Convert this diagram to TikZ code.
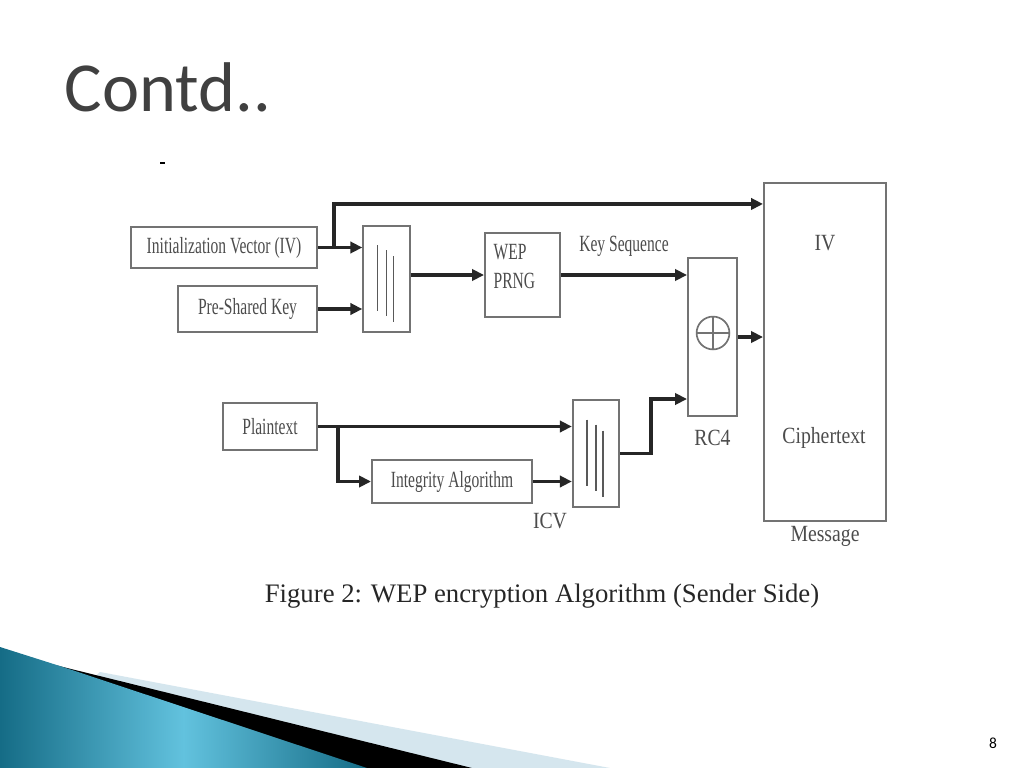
\documentclass[tikz,border=0pt]{standalone}
\usepackage{fontspec}
\setmainfont{Liberation Serif}
\newfontfamily\slidefont{Carlito}
\newfontfamily\condserif[FakeStretch=0.67]{Liberation Serif}
\newfontfamily\semiserif[FakeStretch=0.85]{Liberation Serif}
\usetikzlibrary{arrows.meta, positioning, calc, shapes.geometric}

\definecolor{swooshdark}{HTML}{156C86}
\definecolor{swooshlight}{HTML}{62C2DE}
\definecolor{paleblue}{HTML}{D5E6EE}

\begin{document}
\begin{tikzpicture}[
    x=0.025cm, y=-0.025cm,
    box/.style={rectangle, draw=black!55, line width=1.4pt, inner sep=0pt},
    catbox/.style={box, minimum width=1.16cm, minimum height=2.66cm},
    lbl/.style={font=\condserif\fontsize{16.5}{20}\selectfont, text=black!70, inner sep=1pt},
    biglbl/.style={font=\semiserif\fontsize{16.5}{20}\selectfont, text=black!70, inner sep=1pt},
    arr/.style={-{Triangle[length=8.5pt, width=8pt]}, line width=2.6pt, black!85}
]

% Slide background
\useasboundingbox (0,0) rectangle (1024,768);
\fill[white] (0,0) rectangle (1024,768);

% Corner swoosh
\fill[paleblue] (100,672) -- (610,768) -- (0,768) -- cycle;
\fill[black] (55,665) -- (472,768) -- (0,768) -- cycle;
\shade[shading=axis, shading angle=90, left color=swooshdark, right color=swooshdark, middle color=swooshlight]
    (0,647) -- (63,667) -- (367,768) -- (0,768) -- cycle;

% Title and slide texts
\node[anchor=base west, font=\slidefont\fontsize{50}{56}\selectfont, text=black!75] (title) at (60,112) {Contd..};
\draw[line width=1.5pt] (160,163) -- (165,163);
\node[font=\fontsize{19}{22}\selectfont, text=black!85] (caption) at (542,596) {Figure 2: WEP encryption Algorithm (Sender Side)};
\node[font=\slidefont\fontsize{11}{13}\selectfont] (pagenum) at (993,743) {8};

% Key inputs
\node[box, lbl, minimum width=4.65cm, minimum height=1.025cm] (ivbox) at (224,247.5) {Initialization Vector (IV)};
\node[box, lbl, minimum width=3.475cm, minimum height=1.15cm] (pskbox) at (247.5,309) {Pre-Shared Key};
\node[catbox] (cat1) at (386.5,279) {};

% PRNG and RC4
\node[box, minimum width=1.875cm, minimum height=2.1cm] (prng) at (522.5,275) {};
\node[lbl, anchor=north west, align=left] (prngtxt) at ($(prng.north west)+(8,11)$) {WEP\\PRNG};
\node[box, minimum width=1.225cm, minimum height=3.95cm] (rc4) at (712.5,337) {};
\node[circle, draw=black!55, line width=1.2pt, minimum size=0.82cm, inner sep=0pt] (xor) at (713,333) {};
\draw[black!55, line width=1.2pt] (xor.north) -- (xor.south) (xor.west) -- (xor.east);
\node[biglbl, below=0.28cm of rc4] (rc4lbl) {RC4};

% Message
\node[box, minimum width=3.05cm, minimum height=8.45cm] (msg) at (825,352) {};
\node[biglbl] (ivfield) at (825,243) {IV};
\node[biglbl] (cipher) at (824,438) {Ciphertext};
\node[biglbl, below=2pt of msg] (msglbl) {Message};

% Plaintext side
\node[box, lbl, minimum width=2.35cm, minimum height=1.175cm] (plain) at (270,426.5) {Plaintext};
\node[box, lbl, minimum width=4cm, minimum height=1.075cm] (integ) at (452,481.5) {Integrity Algorithm};
\node[catbox] (cat2) at (596,453.5) {};
\node[biglbl] (icv) at (550,521) {ICV};

% Concatenation strokes
\foreach \c in {cat1, cat2}
  \foreach \dx/\dy in {-9/-34, 0/-29, 7/-23}
    \draw[black!65, line width=1.1pt] ([shift={(\dx,\dy)}]\c.center) -- ++(0,66);

% Connectors
\coordinate (ivsplit) at ($(ivbox.east)+(16,0)$);
\draw[arr] (ivbox.east) -- (ivbox.east -| cat1.west);
\draw[arr] (ivsplit) |- ($(msg.north west)+(0,22)$);
\draw[arr] (pskbox.east) -- (pskbox.east -| cat1.west);
\draw[arr] (prng.west -| cat1.east) -- (prng.west);
\draw[arr] (prng.east) -- (prng.east -| rc4.west) node[lbl, midway, above=0.38cm] (keyseq) {Key Sequence};
\draw[arr] (rc4.east) -- (rc4.east -| msg.west);

\coordinate (ptsplit) at ($(plain.east)+(20,0)$);
\draw[arr] (plain.east) -- (plain.east -| cat2.west);
\draw[arr] (ptsplit) |- (integ.west);
\draw[arr] (integ.east) -- (integ.east -| cat2.west);
\draw[arr] (cat2.east) -- ++(31,0) |- ($(rc4.south west)+(0,-18)$);

\end{tikzpicture}
\end{document}
